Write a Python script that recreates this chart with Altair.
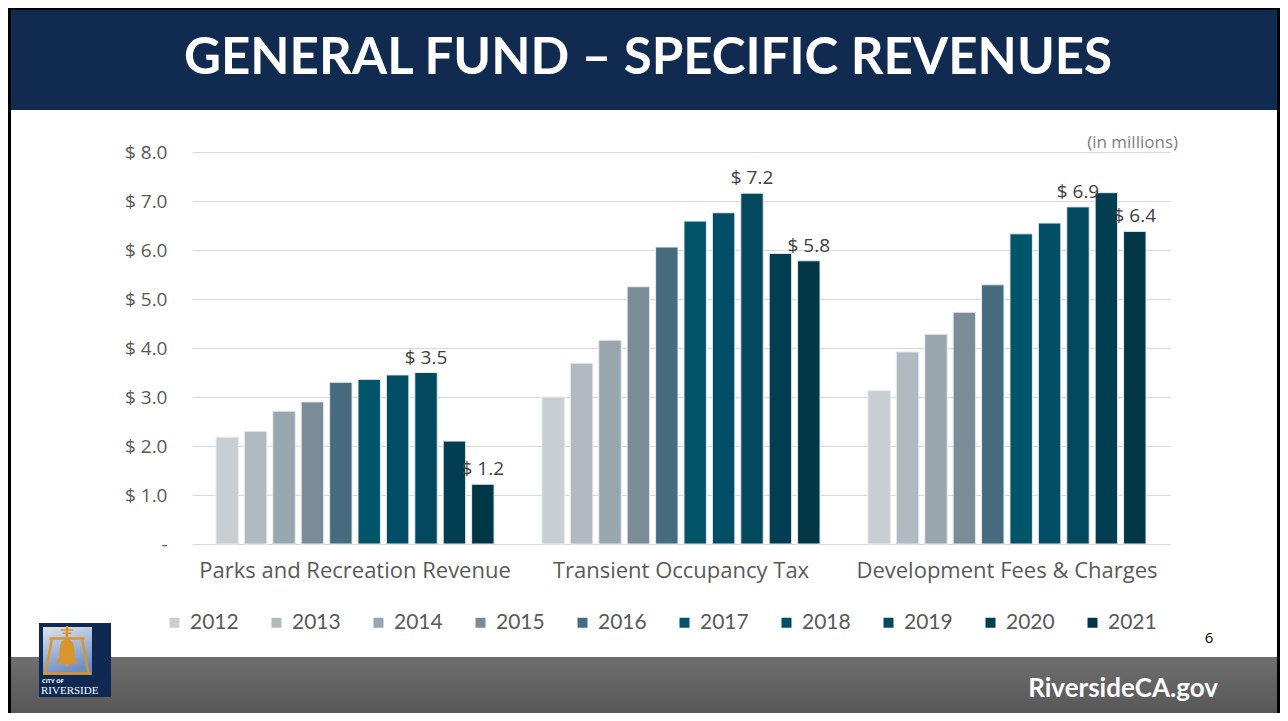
import altair as alt
import pandas as pd

FONT = "Lato"
FONT2 = "Open Sans"

categories = ["Parks and Recreation Revenue", "Transient Occupancy Tax", "Development Fees & Charges"]
years = ["2012", "2013", "2014", "2015", "2016", "2017", "2018", "2019", "2020", "2021"]
parks = [2.18, 2.30, 2.71, 2.90, 3.30, 3.36, 3.45, 3.50, 2.10, 1.22]
transient = [3.00, 3.69, 4.16, 5.25, 6.06, 6.59, 6.76, 7.16, 5.93, 5.78]
development = [3.13, 3.92, 4.28, 4.73, 5.29, 6.33, 6.55, 6.88, 7.17, 6.38]
labeled_years = ["2019", "2021"]
colors = ["#c9ced2", "#b2bac1", "#98a6ae", "#7b8c99", "#486c7f",
          "#005569", "#014e66", "#02495f", "#023e51", "#013646"]
y_ticks = [0, 1, 2, 3, 4, 5, 6, 7, 8]

rows = []
for cat, vals in zip(categories, [parks, transient, development]):
    for yr, v in zip(years, vals):
        rows.append({"category": cat, "year": yr, "value": v})
df = pd.DataFrame(rows)

one = alt.Data(values=[{"k": 1}])

base = alt.Chart(df).encode(
    x=alt.X("category:N", sort=categories,
            scale=alt.Scale(paddingInner=0.147, paddingOuter=0.0736),
            axis=alt.Axis(title=None, labelAngle=0, labelFontSize=22, labelColor="#595959",
                          labelFont=FONT2, labelPadding=16, ticks=False, domain=False,
                          labelLimit=400)),
    xOffset=alt.XOffset("year:N", sort=years, scale=alt.Scale(paddingInner=0.21, paddingOuter=0)),
    y=alt.Y("value:Q", scale=alt.Scale(domain=[0, 8], nice=False),
            axis=alt.Axis(title=None, values=y_ticks,
                          labelExpr="datum.value == 0 ? '-' : '$ ' + format(datum.value, '.1f')",
                          labelFontSize=19, labelColor="#595959", labelFont=FONT2,
                          labelPadding=25, ticks=False, domain=False,
                          gridColor="#d9d9d9", gridWidth=1)),
)

bars = base.mark_bar(stroke="#e6eaed", strokeWidth=1).encode(
    color=alt.Color("year:N", scale=alt.Scale(domain=years, range=colors),
                    legend=alt.Legend(orient="none", legendX=-28, legendY=460,
                                      direction="horizontal", columns=10,
                                      symbolType="square", symbolSize=100,
                                      symbolStrokeWidth=0, labelFontSize=21,
                                      labelColor="#595959", labelFont=FONT,
                                      labelOffset=5, columnPadding=27,
                                      title=None, padding=0))
)

labels = base.transform_filter(
    alt.FieldOneOfPredicate(field="year", oneOf=labeled_years)
).transform_calculate(
    label="'$ ' + format(datum.value, '.1f')"
).mark_text(baseline="bottom", dy=-5, fontSize=19, color="#404040", font=FONT2).encode(
    text="label:N"
)

def rect(x, x2, y, y2, color):
    return alt.Chart(one).mark_rect(color=color).encode(
        x=alt.value(x), x2=alt.value(x2), y=alt.value(y), y2=alt.value(y2))

def txt(s, x, y, **kw):
    return alt.Chart(one).mark_text(text=s, **kw).encode(x=alt.value(x), y=alt.value(y))

banner = rect(-181, 1085, -142, -42, "#112b50")
title = txt("GENERAL FUND \u2013 SPECIFIC REVENUES", 456, -93, font=FONT, fontSize=51,
            fontWeight="bold", color="white", align="center", baseline="middle")
footer_grad = {"gradient": "linear", "x1": 0, "y1": 0, "x2": 0, "y2": 1,
               "stops": [{"offset": 0, "color": "#6f6f6f"}, {"offset": 1, "color": "#575757"}]}
footer = alt.Chart(one).mark_rect(color=footer_grad).encode(
    x=alt.value(-181), x2=alt.value(1085), y=alt.value(505), y2=alt.value(561))
site = txt("RiversideCA.gov", 1026, 537, font=FONT, fontSize=26, fontWeight="bold",
           color="white", align="right", baseline="middle")
page = txt("6", 1017, 486, font=FONT2, fontSize=15, color="black", align="center", baseline="middle")
units = txt("(in millions)", 986, -9, font=FONT2, fontSize=17, color="#808080",
            align="right", baseline="middle")

border_l = rect(-184, -181, -144, 561, "black")
border_t = rect(-184, 1088, -144, -142, "black")
border_r = rect(1085, 1088, -144, 561, "black")

logo_bg = rect(-153, -81, 471, 545, "#0f2a52")
panel_grad = {"gradient": "linear", "x1": 0, "y1": 0, "x2": 0.3, "y2": 1,
              "stops": [{"offset": 0, "color": "#dde4ee"}, {"offset": 1, "color": "#6f8ec4"}]}
logo_panel = alt.Chart(one).mark_rect(color=panel_grad).encode(
    x=alt.value(-149), x2=alt.value(-100), y=alt.value(475), y2=alt.value(523))
bell_path = (
    "M -0.7 -0.55 L 0.7 -0.55 L 0.7 -0.45 L -0.7 -0.45 Z "
    "M -0.66 -0.45 L -0.56 -0.45 L -0.8 0.85 L -0.9 0.85 Z "
    "M 0.56 -0.45 L 0.66 -0.45 L 0.9 0.85 L 0.8 0.85 Z "
    "M -0.95 0.85 L 0.95 0.85 L 0.95 0.95 L -0.95 0.95 Z "
    "M -0.05 -1 L 0.05 -1 L 0.05 -0.55 L -0.05 -0.55 Z "
    "M -0.25 -0.87 L 0.25 -0.87 L 0.25 -0.81 L -0.25 -0.81 Z "
    "M -0.18 -0.74 L 0.18 -0.74 L 0.18 -0.68 L -0.18 -0.68 Z "
    "M -0.1 -0.45 L 0.1 -0.45 C 0.3 -0.4 0.3 -0.1 0.3 0.2 Q 0.35 0.45 0.5 0.5 "
    "L -0.5 0.5 Q -0.35 0.45 -0.3 0.2 C -0.3 -0.1 -0.3 -0.4 -0.1 -0.45 Z "
    "M -0.07 0.5 L 0.07 0.5 L 0.07 0.62 L -0.07 0.62 Z"
)
bell = alt.Chart(one).mark_point(shape=bell_path, size=2500, filled=True,
                                 color="#d9952b", opacity=1, strokeWidth=0).encode(
    x=alt.value(-125), y=alt.value(499))
city_of = txt("CITY OF", -150, 529, font="DejaVu Sans", fontSize=5, fontWeight="bold",
              color="white", align="left", baseline="middle")
riverside = txt("RIVERSIDE", -151, 539, font="Liberation Serif", fontSize=11,
                color="white", align="left", baseline="middle")

chart = alt.layer(
    banner, title, footer, site, page, units,
    logo_bg, logo_panel, bell, city_of, riverside,
    bars, labels,
    border_l, border_t, border_r,
).properties(
    width=978, height=392,
    padding={"left": 184, "top": 144, "right": 110, "bottom": 169},
    autosize=alt.AutoSizeParams(type="none"),
    background="white",
).configure_view(stroke=None)

chart.save("out.html", embed_options={"renderer": "svg", "actions": False})
